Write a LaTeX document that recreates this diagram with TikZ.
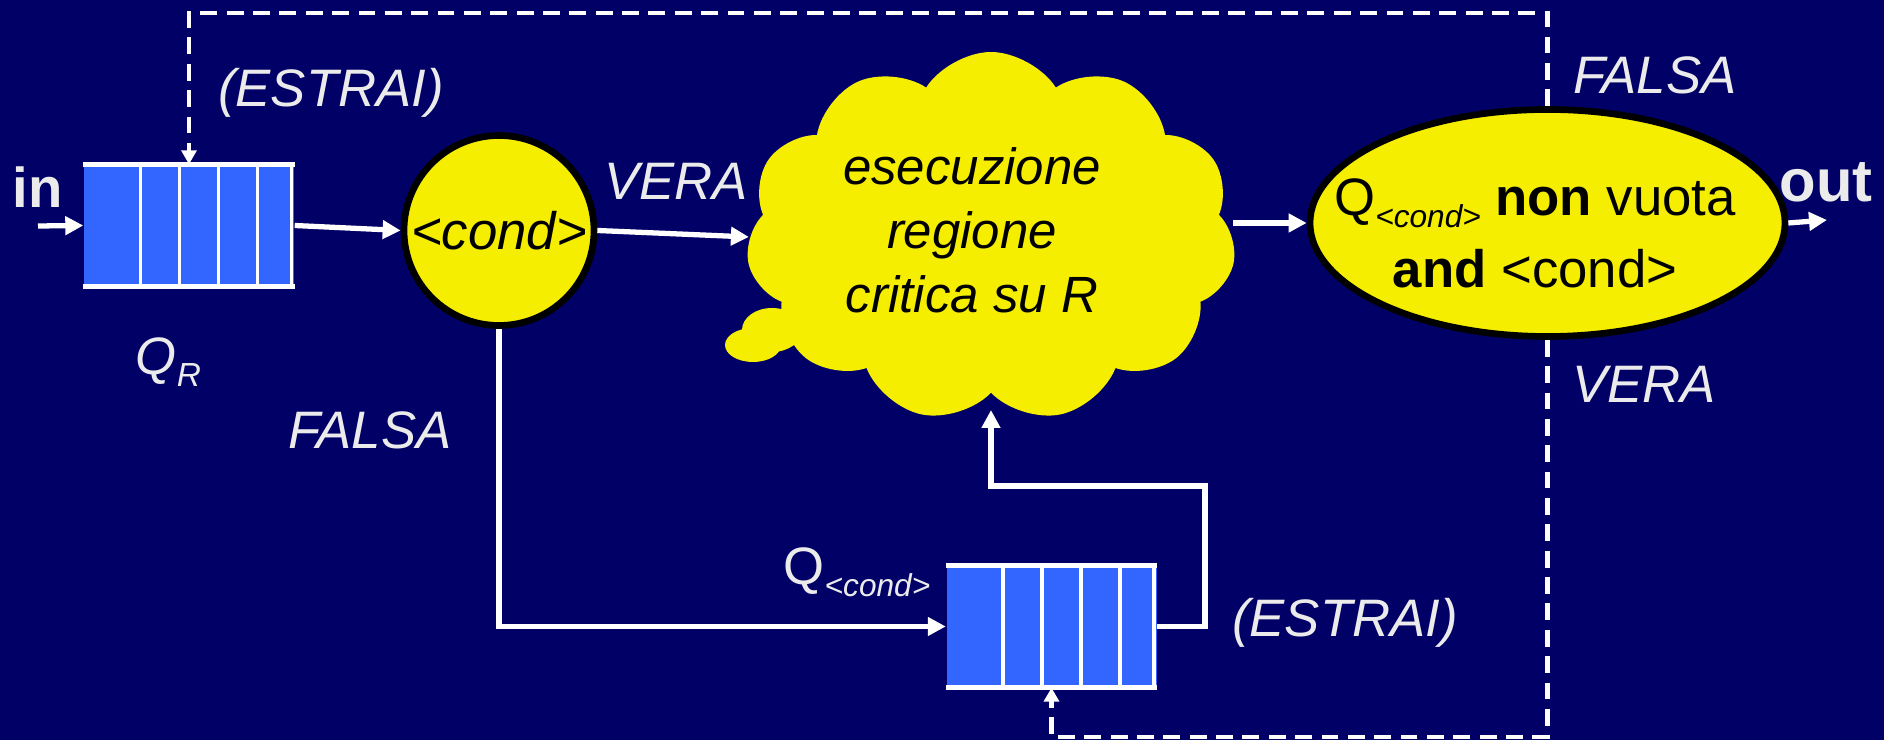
\documentclass[tikz,border=0pt]{standalone}
\usepackage{fontspec}
\setmainfont{Liberation Sans}
\usetikzlibrary{arrows.meta,calc,shapes.symbols,shapes.geometric,positioning}
\definecolor{bgnavy}{RGB}{0,0,102}
\definecolor{qblue}{RGB}{51,102,255}
\definecolor{cyellow}{RGB}{245,238,0}
\definecolor{lbl}{RGB}{235,235,235}
\newcommand{\qsub}[1]{\raisebox{-3.4pt}{\fontsize{9}{9}\selectfont\itshape #1}}
\tikzset{
  queue/.style={rectangle,fill=qblue,minimum width=2.10cm,minimum height=1.21cm,inner sep=0pt},
  qline/.style={white,line width=1.3pt},
  cell/.style={white,line width=1pt},
  conn/.style={white,line width=1.5pt,-{Triangle[length=0.18cm,width=0.18cm]}},
  dashline/.style={white,line width=1.3pt,dash pattern=on 4.8pt off 2.7pt,-{Triangle[length=0.14cm,width=0.15cm]}},
  lab/.style={text=lbl,font=\fontsize{15}{18}\selectfont\itshape,inner sep=0pt},
  big/.style={text=lbl,font=\fontsize{16}{18}\selectfont\bfseries,inner sep=0pt},
  yel/.style={fill=cyellow,draw=black,line width=1.9pt,inner sep=0pt}
}
\begin{document}
\begin{tikzpicture}
  \fill[bgnavy] (0,0) rectangle (18.84,-7.40);
  \useasboundingbox (0,0) rectangle (18.84,-7.40);

  % queues
  \node[queue] (qR) at (1.89,-2.255) {};
  \node[queue] (qC) at (10.515,-6.265) {};
  \foreach \q in {qR,qC}{
    \draw[qline] (\q.north west) -- (\q.north east);
    \draw[qline] (\q.south west) -- (\q.south east);
    \foreach \d in {0.57,0.96,1.35,1.74,2.08}
      \draw[cell] ($(\q.north west)+(\d,0)$) -- ($(\q.south west)+(\d,0)$);
  }

  % tests and critical region
  \node[yel,circle,minimum size=1.90cm,font=\fontsize{15}{18}\selectfont\itshape] (cond) at (4.99,-2.305) {<cond>};
  \fill[cyellow] (7.53,-3.45) ellipse (0.28 and 0.17);
  \fill[cyellow] (7.72,-3.30) ellipse (0.30 and 0.22);
  \node[cloud,cloud puffs=11,cloud puff arc=115,aspect=1.4,fill=cyellow,inner sep=0pt,
        minimum width=4.90cm,minimum height=3.70cm] (cloud) at (9.91,-2.37) {};
  \node[align=center,inner sep=0pt,font=\fontsize{14.5}{18.2}\selectfont\itshape] (cloudtxt) at (9.72,-2.30)
    {esecuzione\\regione\\critica su R};
  \node[yel,ellipse,minimum width=4.75cm,minimum height=2.27cm] (test) at (15.475,-2.23) {};
  \node[align=center,inner sep=0pt,font=\fontsize{15}{20.5}\selectfont] (testtxt) at (15.35,-2.33)
    {Q\qsub{<cond>} \textbf{non} vuota\\\textbf{and} <cond>};

  % connectors
  \coordinate (inS) at (0.38,-2.26);
  \coordinate (outE) at (18.27,-2.20);
  \coordinate (loopR) at (12.05,-4.86);
  \coordinate (cloudB) at (9.91,-4.10);
  \coordinate (topR) at (15.475,-0.13);
  \coordinate (botR) at (15.475,-7.37);
  \draw[conn] (inS) -- (qR.west);
  \draw[conn] (qR.east) -- (cond.west);
  \draw[conn] (cond.east) -- (cloud.west);
  \draw[conn] (cloud.east |- test.west) -- (test.west);
  \draw[conn] (test.east) -- (outE);
  \draw[conn] (cond.south) |- (qC.west);
  \draw[conn] (qC.east) -| (loopR) -| (cloudB);
  \draw[dashline] (test.north) -- (topR) -| (qR.north);
  \draw[dashline] (test.south) -- (botR) -| (qC.south);

  % labels
  \node[big] (inL) at (0.375,-1.87) {in};
  \node[big,font=\fontsize{17}{18}\selectfont\bfseries] (outL) at (18.26,-1.82) {out};
  \node[lab] (estrR) at (3.31,-0.93) {(ESTRAI)};
  \node[lab] (qRL) at (1.685,-3.62) {Q\raisebox{-3.4pt}{\fontsize{9.5}{9.5}\selectfont R}};
  \node[lab] (falsaL) at (3.70,-4.30) {FALSA};
  \node[lab] (veraL) at (6.76,-1.81) {VERA};
  \node[lab] (falsaR) at (16.55,-0.75) {FALSA};
  \node[lab] (veraR) at (16.44,-3.84) {VERA};
  \node[lab,font=\fontsize{15}{18}\selectfont] (qCL) at (8.57,-5.72) {Q\qsub{<cond>}};
  \node[lab] (estrC) at (13.45,-6.23) {(ESTRAI)};
\end{tikzpicture}
\end{document}
